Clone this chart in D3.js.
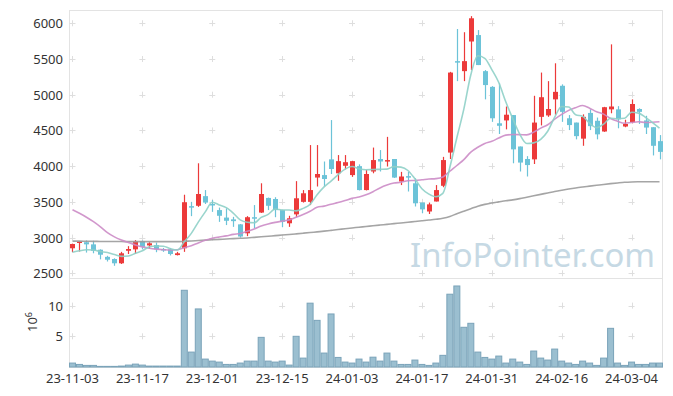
<!DOCTYPE html>
<html>
<head>
<meta charset="utf-8">
<script src="https://cdn.jsdelivr.net/npm/d3@7"></script>
<style>
  body { margin: 0; background: #fff; }
  svg text { font-family: "Noto Sans", "DejaVu Sans", sans-serif; }
</style>
</head>
<body>
<div id="chart"></div>
<script>
// trading days (yy-mm-dd)
var dates = ["23-11-03","23-11-06","23-11-07","23-11-08","23-11-09","23-11-10","23-11-13","23-11-14","23-11-15","23-11-16",
  "23-11-17","23-11-20","23-11-21","23-11-22","23-11-23","23-11-24","23-11-27","23-11-28","23-11-29","23-11-30",
  "23-12-01","23-12-04","23-12-05","23-12-06","23-12-07","23-12-08","23-12-11","23-12-12","23-12-13","23-12-14",
  "23-12-15","23-12-18","23-12-19","23-12-20","23-12-21","23-12-22","23-12-26","23-12-27","23-12-28","24-01-02",
  "24-01-03","24-01-04","24-01-05","24-01-08","24-01-09","24-01-10","24-01-11","24-01-12","24-01-15","24-01-16",
  "24-01-17","24-01-18","24-01-19","24-01-22","24-01-23","24-01-24","24-01-25","24-01-26","24-01-29","24-01-30",
  "24-01-31","24-02-01","24-02-02","24-02-05","24-02-06","24-02-07","24-02-08","24-02-13","24-02-14","24-02-15",
  "24-02-16","24-02-19","24-02-20","24-02-21","24-02-22","24-02-23","24-02-26","24-02-27","24-02-28","24-02-29",
  "24-03-04","24-03-05","24-03-06","24-03-07","24-03-08"];

var open  = [2850,2935,2935,2905,2830,2730,2700,2640,2815,2835, 2950,2890,2895,2840,2835,2755,2850,3440,3445,3580,
  3470,3385,3280,3255,3185,3060,3285,3350,3555,3540, 3385,3200,3325,3500,3500,3840,3875,4095,3900,4005,
  3875,4000,3665,3925,4100,4065,4100,3785,3860,3760, 3490,3365,3505,3725,4190,5470,5330,5745,5835,5330,
  5110,4600,4640,4715,4275,4100,4095,4690,4710,4935, 5125,4670,4610,4385,4745,4635,4485,4795,4795,4555,
  4615,4800,4640,4545,4350];
var high  = [2915,2950,2960,2955,2835,2745,2710,2800,2880,2965, 2960,2935,2930,2855,2855,2800,3600,3500,4040,3665,
  3525,3420,3410,3290,3190,3300,3455,3760,3560,3565, 3390,3305,3790,3665,4295,4295,4065,4645,4155,4155,
  4075,4025,3945,4260,4225,4410,4100,3920,3920,3830, 3490,3490,3735,4130,5320,5920,5875,6100,5905,5345,
  5120,5160,4835,4715,4275,4140,4985,5310,5190,5440, 5145,4715,4610,4725,4795,4680,4830,5705,4840,4650,
  4935,4810,4705,4545,4435];
var low   = [2795,2805,2790,2780,2695,2665,2605,2630,2770,2770, 2835,2845,2795,2800,2750,2750,2800,3300,3430,3470,
  3360,3220,3175,3150,3000,3020,3130,3345,3385,3285, 3145,3150,3290,3490,3455,3715,3715,3890,3795,3955,
  3850,3660,3660,3900,3925,3995,3835,3735,3645,3435, 3340,3330,3505,3705,4100,5190,5190,5345,5415,4935,
  4620,4450,4515,4040,3925,3855,4030,4570,4690,4720, 4620,4505,4375,4285,4505,4375,4480,4740,4530,4545,
  4600,4590,4450,4150,4095];
var close = [2910,2945,2905,2815,2760,2690,2640,2780,2840,2945, 2870,2920,2835,2825,2770,2780,3495,3425,3610,3490,
  3455,3305,3235,3230,3015,3285,3270,3610,3445,3385, 3220,3270,3550,3620,3665,3890,3820,3960,4070,4055,
  4070,3665,3890,4085,4065,4085,3840,3855,3850,3480, 3395,3465,3665,4085,5310,5460,5470,6070,5415,5135,
  4670,4565,4720,4235,4050,4015,4610,4965,4800,5040, 4760,4575,4420,4690,4560,4445,4825,4835,4655,4590,
  4870,4760,4540,4285,4200];

// volume, x 10^6
var volume = [0.64,0.42,0.26,0.26,0.1,0.1,0.1,0.15,0.31,0.47, 0.31,0.15,0.15,0.15,0.15,0.15,12.5,2.43,9.46,1.29,
  0.96,0.8,0.42,0.42,0.64,0.96,0.96,4.83,0.96,0.8, 0.96,0.31,5.0,1.45,10.4,7.6,2.27,8.64,1.56,0.8,
  0.64,1.29,0.8,1.6,0.96,2.27,0.96,0.42,0.42,1.13, 0.42,0.26,0.64,1.9,11.86,13.2,6.47,7.12,2.43,1.56,
  1.29,1.78,0.64,1.29,0.8,0.42,2.6,1.45,1.13,2.92, 0.96,0.64,0.42,0.96,0.64,0.26,1.45,6.3,0.64,0.26,
  0.8,0.42,0.42,0.64,0.64];

// moving averages as drawn
var ma5 = [2795,2815,2830,2825,2805,2790,2762,2737,2742,2779, 2815,2871,2882,2879,2844,2826,2941,3059,3216,3360,
  3495,3457,3419,3343,3248,3214,3207,3282,3325,3399, 3386,3386,3374,3409,3465,3599,3709,3791,3881,3959,
  3995,3964,3950,3953,3955,3958,3993,3986,3939,3822, 3684,3609,3571,3618,3984,4397,4798,5279,5545,5510,
  5352,5171,4901,4665,4448,4317,4326,4375,4488,4686, 4835,4828,4719,4697,4601,4538,4588,4671,4664,4670,
  4755,4742,4683,4609,4531];
var ma20 = [3390,3340,3285,3222,3150,3070,3010,2966,2930,2896, 2870,2850,2838,2830,2825,2830,2858,2885,2925,2962,
  2990,3008,3024,3045,3058,3088,3119,3161,3191,3213, 3230,3248,3284,3323,3368,3424,3440,3467,3490,3518,
  3549,3567,3599,3642,3695,3735,3763,3775,3796,3800, 3809,3819,3825,3848,3930,4009,4091,4197,4264,4318,
  4348,4393,4434,4442,4441,4438,4476,4532,4579,4657, 4725,4781,4819,4849,4811,4761,4728,4667,4629,4601,
  4611,4621,4612,4615,4622];
var ma60 = [2950,2950,2948,2947,2946,2945,2944,2944,2943,2943, 2943,2943,2943,2943,2943,2943,2948,2953,2958,2964,
  2970,2975,2980,2985,2990,2995,3003,3011,3019,3027, 3035,3043,3052,3061,3070,3080,3090,3101,3112,3124,
  3135,3145,3155,3165,3175,3185,3195,3205,3215,3225, 3235,3245,3256,3270,3295,3335,3370,3405,3440,3465,
  3485,3500,3515,3528,3545,3565,3585,3605,3625,3645, 3663,3680,3695,3708,3720,3732,3744,3755,3765,3774,
  3779,3781,3782,3782,3782];

var priceTicks = [2500,3000,3500,4000,4500,5000,5500,6000];
var volTicks = [5,10];

(function () {
  var width = 673, height = 396;
  var left = 69, right = 663, plotTop = 10, mid = 278, bottom = 367;
  var upColor = "#ec3a3a", downColor = "#6cc3d8";

  var data = dates.map(function (d, i) {
    return {date: d, o: open[i], h: high[i], l: low[i], c: close[i], v: volume[i]};
  });

  var svg = d3.select("#chart").append("svg")
      .attr("width", width)
      .attr("height", height);

  var x = d3.scaleBand()
      .domain(dates)
      .range([left, right])
      .padding(0);
  var bw = x.bandwidth();
  var cx = function (d) { return x(d) + bw / 2; };

  var y = d3.scaleLinear().domain([2434, 6186]).range([mid, plotTop]);
  var yv = d3.scaleLinear().domain([0, 14.5]).range([bottom, mid]);

  // watermark
  svg.append("text")
      .attr("x", 655)
      .attr("y", 267)
      .attr("text-anchor", "end")
      .attr("textLength", 245)
      .attr("lengthAdjust", "spacingAndGlyphs")
      .style("font-family", "'Noto Sans', sans-serif")
      .style("font-size", "33px")
      .attr("fill", "#c6d9e4")
      .text("InfoPointer.com");

  // frame
  var frame = svg.append("g").attr("stroke", "#e3e3e3").attr("fill", "none");
  frame.append("rect").attr("x", left + 0.5).attr("y", plotTop + 0.5)
      .attr("width", right - left - 1).attr("height", bottom - plotTop);
  frame.append("line").attr("x1", left).attr("x2", right).attr("y1", mid + 0.5).attr("y2", mid + 0.5);

  // "+" grid markers
  var tickDates = dates.filter(function (d, i) { return i % 10 === 0; });
  function crosses(yvals, scale) {
    var pts = [];
    tickDates.forEach(function (d) {
      yvals.forEach(function (v) { pts.push([cx(d), scale(v)]); });
    });
    svg.append("g").selectAll("path")
        .data(pts)
      .enter().append("path")
        .attr("d", function (p) {
          return "M" + (p[0] - 3) + "," + (Math.round(p[1]) + 0.5) + "h6M" + (Math.round(p[0]) + 0.5) + "," + (p[1] - 3) + "v6";
        })
        .attr("stroke", "#dedede")
        .attr("fill", "none");
  }
  crosses(priceTicks, y);
  crosses(volTicks, yv);

  // volume
  svg.append("g").selectAll("rect")
      .data(data)
    .enter().append("rect")
      .attr("x", function (d) { return x(d.date) + 0.5; })
      .attr("y", function (d) { return yv(d.v); })
      .attr("width", bw - 1)
      .attr("height", function (d) { return bottom - yv(d.v); })
      .attr("fill", "#9bbfd0")
      .attr("stroke", "#7aa3b9")
      .attr("stroke-width", 1);

  // candles
  var candle = svg.append("g").selectAll("g")
      .data(data)
    .enter().append("g")
      .attr("stroke", function (d) { return d.c >= d.o ? upColor : downColor; })
      .attr("fill", function (d) { return d.c >= d.o ? upColor : downColor; });
  candle.append("line")
      .attr("x1", function (d) { return Math.round(cx(d.date)) + 0.5; })
      .attr("x2", function (d) { return Math.round(cx(d.date)) + 0.5; })
      .attr("y1", function (d) { return y(d.h); })
      .attr("y2", function (d) { return y(d.l); })
      .attr("stroke-width", 1.2);
  candle.append("rect")
      .attr("x", function (d) { return Math.round(cx(d.date)) - 2; })
      .attr("y", function (d) { return y(Math.max(d.o, d.c)); })
      .attr("width", 5)
      .attr("height", function (d) { return Math.max(1.5, Math.abs(y(d.o) - y(d.c))); })
      .attr("stroke", "none");

  // moving averages
  var maLine = function (arr) {
    return d3.line()
        .x(function (v, i) { return cx(dates[i]); })
        .y(function (v) { return y(v); })
        .curve(d3.curveMonotoneX)(arr);
  };
  [[ma60, "#9b9b9b"], [ma20, "#cc8cc6"], [ma5, "#8fd0c8"]].forEach(function (m) {
    svg.append("path")
        .attr("d", maLine(m[0]))
        .attr("fill", "none")
        .attr("stroke", m[1])
        .attr("stroke-width", 1.6)
        .attr("stroke-opacity", 0.9);
  });

  // axis labels
  svg.append("g").selectAll("text")
      .data(priceTicks)
    .enter().append("text")
      .attr("x", 63)
      .attr("y", function (d) { return y(d) + 5; })
      .attr("text-anchor", "end")
      .style("font-size", "13px")
      .attr("fill", "#333")
      .text(function (d) { return d; });

  svg.append("g").selectAll("text")
      .data(volTicks)
    .enter().append("text")
      .attr("x", 63)
      .attr("y", function (d) { return yv(d) + 5; })
      .attr("text-anchor", "end")
      .style("font-size", "13px")
      .attr("fill", "#333")
      .text(function (d) { return d; });

  var unit = svg.append("text")
      .attr("transform", "translate(37,332) rotate(-90)")
      .style("font-size", "13px")
      .attr("fill", "#333");
  unit.append("tspan").text("10");
  unit.append("tspan").attr("dy", -5).style("font-size", "9px").text("6");

  svg.append("g").selectAll("text")
      .data(tickDates)
    .enter().append("text")
      .attr("x", function (d) { return cx(d); })
      .attr("y", 383)
      .attr("text-anchor", "middle")
      .style("font-size", "13px")
      .attr("fill", "#333")
      .text(function (d) { return d; });
}());
</script>
</body>
</html>
